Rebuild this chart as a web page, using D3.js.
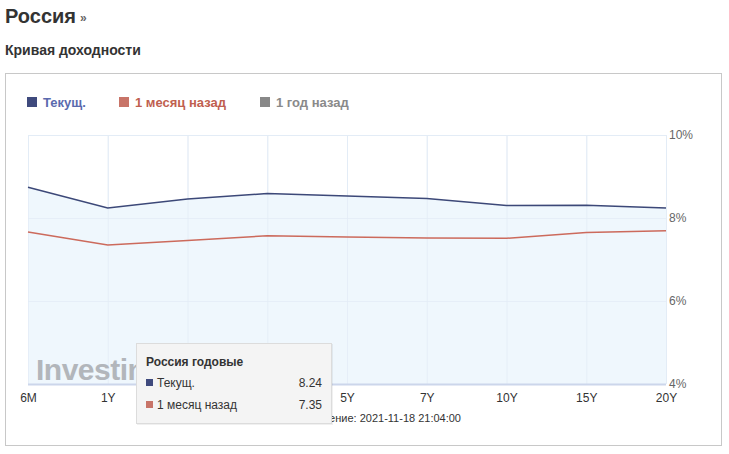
<!DOCTYPE html>
<html><head><meta charset="utf-8">
<script src="https://cdn.jsdelivr.net/npm/d3@7"></script>
<style>
body{margin:0;background:#fff;font-family:"Liberation Sans",Arial,sans-serif;}
svg{display:block}
</style></head><body>
<svg id="c" width="729" height="454"></svg>
<script>
const categories = ["6M","1Y","2Y","3Y","5Y","7Y","10Y","15Y","20Y"];
const current = [8.74, 8.24, 8.46, 8.59, 8.53, 8.47, 8.30, 8.31, 8.24];
const monthAgo = [7.66, 7.35, 7.46, 7.57, 7.54, 7.52, 7.51, 7.65, 7.69];
const yTicks = [4, 6, 8, 10];
const legendLabels = ["Текущ.", "1 месяц назад", "1 год назад"];
const tooltipIndex = 1;

const svg = d3.select("#c");
const font = '"Liberation Sans", Arial, sans-serif';

// Headings
svg.append("text").attr("x",5).attr("y",23).attr("font-family",font).attr("font-weight","bold")
  .attr("font-size",20).attr("fill","#333").text("Россия");
svg.append("text").attr("x",80).attr("y",22).attr("font-family",font).attr("font-weight","bold")
  .attr("font-size",12).attr("fill","#666").text("»");
svg.append("text").attr("x",5).attr("y",55).attr("font-family",font).attr("font-weight","bold")
  .attr("font-size",14).attr("fill","#333").text("Кривая доходности");

// Outer box
svg.append("rect").attr("x",5.5).attr("y",73.5).attr("width",716).attr("height",372)
  .attr("fill","#fff").attr("stroke","#c8c8c8");

// Legend
const legColors = ["#3f4a7d","#c87468","#888888"];
const legText = ["#5a6aae","#c0604f","#8a8a8a"];
const legX = [27, 119, 260];
legendLabels.forEach((l,i)=>{
  svg.append("rect").attr("x",legX[i]).attr("y",97).attr("width",10).attr("height",10).attr("fill",legColors[i]);
  svg.append("text").attr("x",legX[i]+16).attr("y",107).attr("font-family",font).attr("font-weight","bold")
    .attr("font-size",13).attr("fill",legText[i]).text(l);
});

// Scales
const x = d3.scalePoint().domain(categories).range([28, 666]);
const y = d3.scaleLinear().domain([4, 10]).range([384, 135]);

const g = svg.append("g");
g.selectAll(".vg").data(categories).enter().append("line")
  .attr("x1",d=>x(d)+0.5).attr("x2",d=>x(d)+0.5).attr("y1",135).attr("y2",384)
  .attr("stroke","#e6edf7").attr("stroke-width",1);
g.selectAll(".hg").data(yTicks).enter().append("line")
  .attr("x1",28).attr("x2",666).attr("y1",d=>y(d)+0.5).attr("y2",d=>y(d)+0.5)
  .attr("stroke","#e6edf7");

// area under current
const area = d3.area().x((d,i)=>x(categories[i])).y0(y(4)).y1(d=>y(d));
g.append("path").datum(current).attr("d",area).attr("fill","#eef7fd").attr("opacity",0.95);

g.selectAll(".vg2").data(categories).enter().append("line")
  .attr("x1",d=>x(d)+0.5).attr("x2",d=>x(d)+0.5).attr("y1",135).attr("y2",384)
  .attr("stroke","#e3ecf6").attr("stroke-width",1).attr("opacity",0.7);
g.selectAll(".hg2").data(yTicks).enter().append("line")
  .attr("x1",28).attr("x2",666).attr("y1",d=>y(d)+0.5).attr("y2",d=>y(d)+0.5)
  .attr("stroke","#e3ecf6").attr("opacity",0.7);

// watermark
svg.append("text").attr("x",36).attr("y",380).attr("font-family",font).attr("font-weight","bold")
  .attr("font-size",30).attr("letter-spacing",-0.5).attr("fill","#a8abb0").attr("opacity",0.85).text("Investing.com");

// baseline axis line
g.append("line").attr("x1",28).attr("x2",666).attr("y1",384.5).attr("y2",384.5).attr("stroke","#ccd6eb").attr("stroke-width",2);

const line = d3.line().x((d,i)=>x(categories[i])).y(d=>y(d));
g.append("path").datum(monthAgo).attr("d",line).attr("fill","none").attr("stroke","#cc6a5c").attr("stroke-width",1.5);
g.append("path").datum(current).attr("d",line).attr("fill","none").attr("stroke","#3c4878").attr("stroke-width",1.5);

// axes
const xAxis = d3.axisBottom(x).tickSize(0).tickPadding(8);
const xg = svg.append("g").attr("transform","translate(0,385)").call(xAxis);
xg.select(".domain").remove();
xg.selectAll("text").attr("font-family",font).attr("font-size",12).attr("fill","#333");

const yAxis = d3.axisRight(y).tickValues(yTicks).tickSize(0).tickPadding(3).tickFormat(d=>d+"%");
const yg = svg.append("g").attr("transform","translate(666,0)").call(yAxis);
yg.select(".domain").remove();
yg.selectAll("text").attr("font-family",font).attr("font-size",12).attr("fill","#666");

// update text
svg.append("text").attr("x",461).attr("y",422).attr("text-anchor","end").attr("font-family",font)
  .attr("font-size",11).attr("fill","#333").text("Последнее обновление: 2021-11-18 21:04:00");

// Tooltip
const tt = svg.append("g").attr("transform","translate(136,343)");
tt.append("rect").attr("x",1).attr("y",1).attr("width",196).attr("height",81).attr("fill","rgba(0,0,0,0.06)");
tt.append("rect").attr("x",0.5).attr("y",0.5).attr("width",195).attr("height",80).attr("fill","#f4f4f4").attr("stroke","#dcdcdc");
tt.append("text").attr("x",10).attr("y",23).attr("font-family",font).attr("font-weight","bold")
  .attr("font-size",12).attr("fill","#333").text("Россия годовые");
const ttRows = [[legendLabels[0], current[tooltipIndex], legColors[0]],[legendLabels[1], monthAgo[tooltipIndex], legColors[1]]];
ttRows.forEach((r,i)=>{
  const yy = 44 + i*22;
  tt.append("rect").attr("x",10).attr("y",yy-8).attr("width",7).attr("height",7).attr("fill",r[2]);
  tt.append("text").attr("x",21).attr("y",yy).attr("font-family",font).attr("font-size",12).attr("fill","#333").text(r[0]);
  tt.append("text").attr("x",186).attr("y",yy).attr("text-anchor","end").attr("font-family",font).attr("font-size",12).attr("fill","#333").text(r[1].toFixed(2));
});
</script></body></html>
